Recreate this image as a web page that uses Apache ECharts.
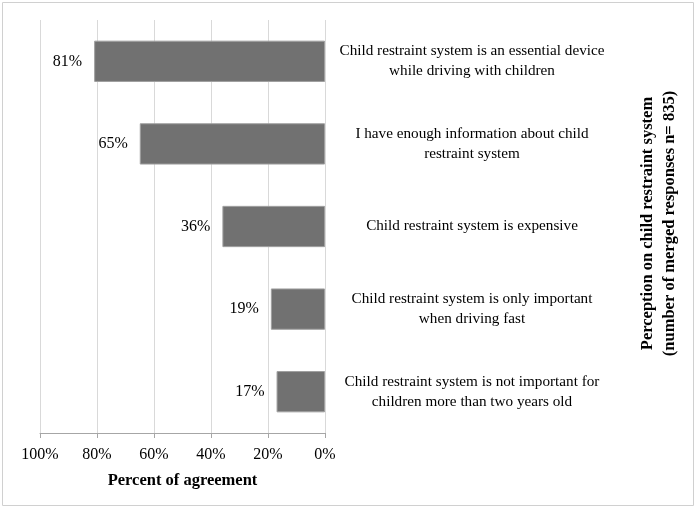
<!DOCTYPE html>
<html>
<head>
<meta charset="utf-8">
<script src="https://cdn.jsdelivr.net/npm/echarts@6/dist/echarts.min.js"></script>
<style>
  html, body { margin: 0; padding: 0; background: #fff; }
  #chart { width: 698px; height: 510px; }
</style>
</head>
<body>
<div id="chart"></div>
<script>
const categories = [
  'Child restraint system is an essential device\nwhile driving with children',
  'I have enough information about child\nrestraint system',
  'Child restraint system is expensive',
  'Child restraint system is only important\nwhen driving fast',
  'Child restraint system is not important for\nchildren more than two years old'
]
const agreement = [81, 65, 36, 19, 17]

const font = '"Liberation Serif", "Times New Roman", serif'

const chart = echarts.init(document.getElementById('chart'))

chart.setOption({
  animation: false,
  textStyle: { fontFamily: font },
  graphic: [{
    type: 'rect',
    shape: { x: 2.5, y: 2.5, width: 691, height: 503 },
    style: { fill: 'none', stroke: '#d0d0d0', lineWidth: 1 },
    silent: true
  }],
  grid: { left: 40, right: 373, top: 20, bottom: 77, outerBoundsMode: 'none' },
  xAxis: {
    type: 'value',
    inverse: true,
    min: 0,
    max: 100,
    interval: 20,
    name: 'Percent of agreement',
    nameLocation: 'middle',
    nameGap: 39,
    nameTextStyle: { fontFamily: font, fontWeight: 'bold', fontSize: 16.5, color: '#000' },
    axisLine: { show: true, lineStyle: { color: '#a6a6a6' } },
    axisTick: { show: true, length: 5, lineStyle: { color: '#a6a6a6' } },
    axisLabel: { formatter: '{value}%', fontFamily: font, fontSize: 16, color: '#000', margin: 14 },
    splitLine: { show: true, lineStyle: { color: '#d9d9d9' } }
  },
  yAxis: {
    type: 'category',
    position: 'right',
    inverse: true,
    data: categories,
    name: 'Perception on child restraint system\n(number of merged responses n= 835)',
    nameLocation: 'middle',
    nameRotate: 90,
    nameGap: 312,
    nameTextStyle: {
      fontFamily: font, fontWeight: 'bold', fontSize: 16.5, color: '#000',
      lineHeight: 22, padding: [0, 0, 0, 6]
    },
    axisLine: { show: false },
    axisTick: { show: false },
    axisLabel: {
      fontFamily: font, fontSize: 15.2, color: '#000',
      align: 'center', margin: 147, lineHeight: 20
    }
  },
  series: [{
    type: 'bar',
    data: agreement,
    barWidth: '50%',
    itemStyle: { color: '#717171', borderColor: '#a0a0a0', borderWidth: 1 },
    label: {
      show: true,
      position: 'left',
      distance: 12,
      formatter: '{c}%',
      fontFamily: font,
      fontSize: 16,
      color: '#000'
    }
  }]
})
</script>
</body>
</html>
